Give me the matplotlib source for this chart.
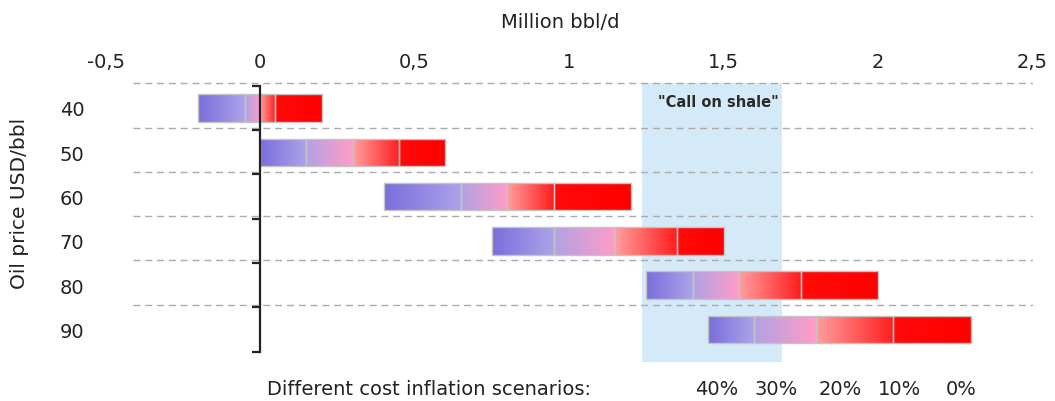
import numpy as np
import matplotlib.pyplot as plt
from matplotlib.colors import to_rgb
from matplotlib.patches import Rectangle

# Oil price levels (USD/bbl) and shale output (million bbl/d) under each cost-inflation scenario
prices = [40, 50, 60, 70, 80, 90]
infl_40 = [-0.20, 0.00, 0.40, 0.75, 1.25, 1.45]
infl_30 = [-0.05, 0.15, 0.65, 0.95, 1.40, 1.60]
infl_20 = [0.00, 0.30, 0.80, 1.15, 1.55, 1.80]
infl_10 = [0.05, 0.45, 0.95, 1.35, 1.75, 2.05]
infl_0 = [0.20, 0.60, 1.20, 1.50, 2.00, 2.30]
scenario_labels = ["40%", "30%", "20%", "10%", "0%"]

x_ticks = [-0.5, 0, 0.5, 1, 1.5, 2, 2.5]
x_tick_labels = ["-0,5", "0", "0,5", "1", "1,5", "2", "2,5"]

call_on_shale = (1.236, 1.689)

# gradient endpoints for each band between consecutive scenarios
band_colors = [
    ("#7A6EDC", "#ADA3E8"),
    ("#B2A2E4", "#FF9CC8"),
    ("#FF9E9E", "#FF1E1E"),
    ("#FF0A0A", "#FF0000"),
]

text_color = "#222222"
W, H = 1055, 402
fig = plt.figure(figsize=(W / 100, H / 100), dpi=100)
ax = fig.add_axes([105.5 / W, 1 - 365 / H, (1032.5 - 105.5) / W, (365 - 80) / H])

ax.add_patch(Rectangle((call_on_shale[0], -0.56), call_on_shale[1] - call_on_shale[0],
                       5.73 + 0.56, facecolor="#D5EAF8", edgecolor="none", zorder=0.5))
ax.text(1.485, -0.14, "\"Call on shale\"", ha="center", va="center",
        fontsize=10.5, fontweight="bold", color="#2a2a2a", zorder=4)

# dashed row separators
ax.hlines([k - 0.56 for k in range(len(prices))], -0.41, 2.5, colors="#ABABAB",
          linestyles=(0, (5, 3.5)), linewidth=1.0, zorder=1)

bar_h = 0.62
scen = np.array([infl_40, infl_30, infl_20, infl_10, infl_0])
for i in range(len(prices)):
    for b in range(4):
        x0, x1 = scen[b, i], scen[b + 1, i]
        if x1 <= x0:
            continue
        c0, c1 = np.array(to_rgb(band_colors[b][0])), np.array(to_rgb(band_colors[b][1]))
        t = np.linspace(0, 1, 64)[None, :, None]
        grad = c0 * (1 - t) + c1 * t
        frame = Rectangle((x0, i - bar_h / 2), x1 - x0, bar_h, facecolor="none",
                          edgecolor="#C4C4C4", linewidth=1.0, zorder=2.2)
        ax.add_patch(frame)
        im = ax.imshow(grad, extent=(x0, x1, i + bar_h / 2 + 0.05, i - bar_h / 2 - 0.05),
                       aspect="auto", interpolation="bilinear", zorder=2)
        im.set_clip_path(frame)

ax.set_xlim(-0.5, 2.5)
ax.set_ylim(5.779, -0.655)

# bracket-style axis at x = 0
for s in ("top", "right", "bottom"):
    ax.spines[s].set_visible(False)
ax.spines["left"].set_position(("data", 0))
ax.spines["left"].set_bounds(-0.5, 5.5)
ax.spines["left"].set_linewidth(1.6)
ax.spines["left"].set_color("#222222")
ax.spines["left"].set_zorder(3)
ax.set_yticks(np.arange(-0.5, 6.0, 1.0))
ax.set_yticklabels([])
ax.tick_params(axis="y", direction="out", length=6, width=1.6, color="#222222")

ax.xaxis.tick_top()
ax.set_xticks(x_ticks)
ax.set_xticklabels(x_tick_labels, fontsize=14, color=text_color)
ax.tick_params(axis="x", length=0, pad=6)

for i, p in enumerate(prices):
    fig.text(72 / W, 1 - (109 + 44.3 * i) / H, str(p), ha="center",
             va="center_baseline", fontsize=14, color=text_color)

fig.text(560 / W, 1 - 22 / H, "Million bbl/d", ha="center", va="center",
         fontsize=14, color=text_color)
fig.text(20 / W, 1 - 203 / H, "Oil price USD/bbl", rotation=90, ha="center",
         va="center", fontsize=14.5, color=text_color)

fig.text(267 / W, 1 - 390 / H, "Different cost inflation scenarios:", ha="left",
         va="center", fontsize=14, color=text_color)
for xpix, lab in zip([717, 776, 840, 900, 961], scenario_labels):
    fig.text(xpix / W, 1 - 390 / H, lab, ha="center", va="center",
             fontsize=14, color=text_color)

fig.savefig("out.png", dpi=100)
